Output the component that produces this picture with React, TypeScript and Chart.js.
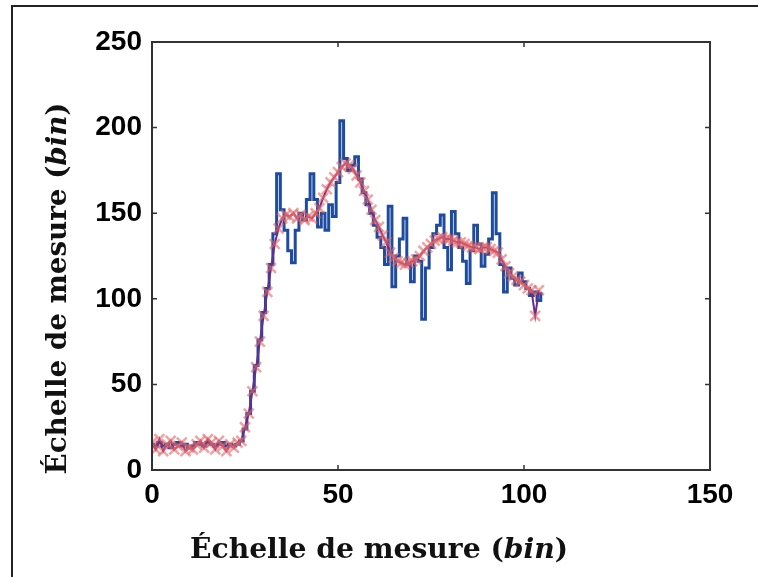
import React, { useEffect, useRef } from "react";
import { Chart, registerables } from "chart.js";

Chart.register(...registerables);

// Axis tick values
const xTickValues = [0, 50, 100, 150];
const yTickValues = [0, 50, 100, 150, 200, 250];

// Axis titles
const titleMain = "Échelle de mesure (";
const titleItalic = "bin";
const titleEnd = ")";

// Raw measurement (blue), one value per bin starting at bin 0
const measuredValues = [
  15, 14, 16, 14, 15, 13, 15, 16, 14, 15, 13, 14, 16, 15, 14, 16, 15, 14, 15, 16,
  14, 15, 14, 15, 17, 24, 33, 46, 61, 76, 92, 106, 120, 138, 173, 152, 140, 128, 121, 140,
  150, 146, 158, 173, 158, 142, 150, 140, 155, 148, 168, 204, 182, 175, 178, 183, 170, 162, 155, 150,
  143, 136, 130, 120, 154, 107, 125, 135, 147, 120, 110, 125, 122, 88, 118, 130, 138, 143, 149, 130,
  117, 151, 138, 130, 122, 109, 128, 143, 132, 119, 126, 135, 162, 138, 120, 104, 118, 112, 108, 115,
  110, 106, 102, 104, 99, 103,
];

// Smoothed estimate (red crosses), one value per bin starting at bin 0
const smoothedValues = [
  16, 12, 18, 11, 15, 17, 12, 14, 16, 11, 13, 12, 15, 17, 13, 18, 16, 12, 17, 14,
  11, 15, 13, 16, 17, 25, 33, 46, 60, 75, 90, 104, 118, 132, 141, 147, 149, 148, 150, 147,
  149, 146, 148, 147, 150, 153, 159, 164, 168, 171, 174, 177, 179, 178, 176, 172, 168, 163, 158, 152,
  146, 142, 137, 133, 127, 124, 122, 121, 120, 121, 122, 123, 125, 128, 130, 132, 134, 135, 136, 135,
  135, 134, 133, 133, 132, 131, 130, 130, 129, 130, 130, 129, 128, 127, 123, 119, 115, 113, 111, 110,
  108, 106, 105, 90, 105,
];

const toPoints = (vals: number[]) => vals.map((v, i) => ({ x: i, y: v }));

function drawMixedTitle(
  ctx: CanvasRenderingContext2D,
  cx: number,
  cy: number,
  rotate: boolean,
  targetWidth: number
) {
  const size = 28;
  const fam = '"DejaVu Serif", "Liberation Serif", serif';
  const parts = [
    { t: titleMain, f: `bold ${size}px ${fam}` },
    { t: titleItalic, f: `italic bold ${size}px ${fam}` },
    { t: titleEnd, f: `bold ${size}px ${fam}` },
  ];
  let total = 0;
  const widths: number[] = [];
  for (const p of parts) {
    ctx.font = p.f;
    const w = ctx.measureText(p.t).width;
    widths.push(w);
    total += w;
  }
  const sx = targetWidth / total;
  ctx.save();
  ctx.translate(cx, cy);
  if (rotate) ctx.rotate(-Math.PI / 2);
  ctx.scale(sx, 1);
  ctx.fillStyle = "#111";
  ctx.textBaseline = "alphabetic";
  ctx.textAlign = "left";
  let x = -total / 2;
  parts.forEach((p, i) => {
    ctx.font = p.f;
    ctx.fillText(p.t, x, 0);
    x += widths[i];
  });
  ctx.restore();
}

const decorPlugin = {
  id: "decor",
  afterDatasetsDraw(chart: any) {
    const { ctx, chartArea, scales } = chart;
    const { left, right, top, bottom } = chartArea;
    ctx.save();
    ctx.strokeStyle = "#333";
    ctx.lineWidth = 2;
    ctx.strokeRect(left, top, right - left, bottom - top);
    ctx.lineWidth = 1.5;
    ctx.beginPath();
    xTickValues.forEach((v) => {
      const px = scales.x.getPixelForValue(v);
      if (px > left + 1 && px < right - 1) {
        ctx.moveTo(px, bottom);
        ctx.lineTo(px, bottom - 5);
        ctx.moveTo(px, top);
        ctx.lineTo(px, top + 5);
      }
    });
    yTickValues.forEach((v) => {
      const py = scales.y.getPixelForValue(v);
      if (py > top + 1 && py < bottom - 1) {
        ctx.moveTo(left, py);
        ctx.lineTo(left + 5, py);
        ctx.moveTo(right, py);
        ctx.lineTo(right - 5, py);
      }
    });
    ctx.stroke();
    ctx.restore();
  },
  afterDraw(chart: any) {
    const { ctx, width, height } = chart;
    ctx.save();
    ctx.strokeStyle = "#222";
    ctx.lineWidth = 2;
    ctx.beginPath();
    ctx.moveTo(12, height);
    ctx.lineTo(12, 6);
    ctx.lineTo(width, 6);
    ctx.stroke();
    ctx.restore();
    drawMixedTitle(ctx, width / 2, 558, false, 378);
    drawMixedTitle(ctx, 66, height / 2, true, 372);
  },
};

export default function App() {
  const ref = useRef<HTMLCanvasElement | null>(null);

  useEffect(() => {
    if (!ref.current) return;
    const tickFont = { family: '"Liberation Sans", Arial, sans-serif', size: 28, weight: "bold" as const };
    const chart = new Chart(ref.current, {
      type: "line",
      data: {
        datasets: [
          {
            label: "smoothed",
            data: toPoints(smoothedValues),
            borderColor: "#6b2d8a",
            borderWidth: 2,
            pointStyle: "crossRot",
            pointRadius: 7,
            pointBorderWidth: 2.5,
            pointBorderColor: "rgba(232, 100, 100, 0.6)",
            pointBackgroundColor: "rgba(232, 100, 100, 0.6)",
            tension: 0,
          },
          {
            label: "measured",
            data: toPoints(measuredValues),
            borderColor: "#1d4b9f",
            borderWidth: 3,
            pointRadius: 0,
            stepped: "middle",
          },
        ],
      },
      options: {
        animation: false,
        responsive: false,
        events: [],
        layout: { padding: { left: 0, top: 42, right: 48, bottom: 0 } },
        plugins: { legend: { display: false }, tooltip: { enabled: false } },
        scales: {
          x: {
            type: "linear",
            min: 0,
            max: 150,
            grid: { display: false },
            border: { display: false },
            afterBuildTicks: (s: any) => {
              s.ticks = xTickValues.map((v) => ({ value: v }));
            },
            afterFit: (s: any) => {
              s.height = 107;
            },
            ticks: { font: tickFont, color: "#000", padding: 0, maxRotation: 0 },
          },
          y: {
            type: "linear",
            min: 0,
            max: 250,
            grid: { display: false },
            border: { display: false },
            afterBuildTicks: (s: any) => {
              s.ticks = yTickValues.map((v) => ({ value: v }));
            },
            afterFit: (s: any) => {
              s.width = 152;
            },
            ticks: { font: tickFont, color: "#000", padding: 2 },
          },
        },
      },
      plugins: [decorPlugin],
    });
    return () => chart.destroy();
  }, []);

  return (
    <div style={{ position: "fixed", left: 0, top: 0, width: 758, height: 577, background: "#fff" }}>
      <canvas ref={ref} width={758} height={577} style={{ display: "block" }} />
    </div>
  );
}
